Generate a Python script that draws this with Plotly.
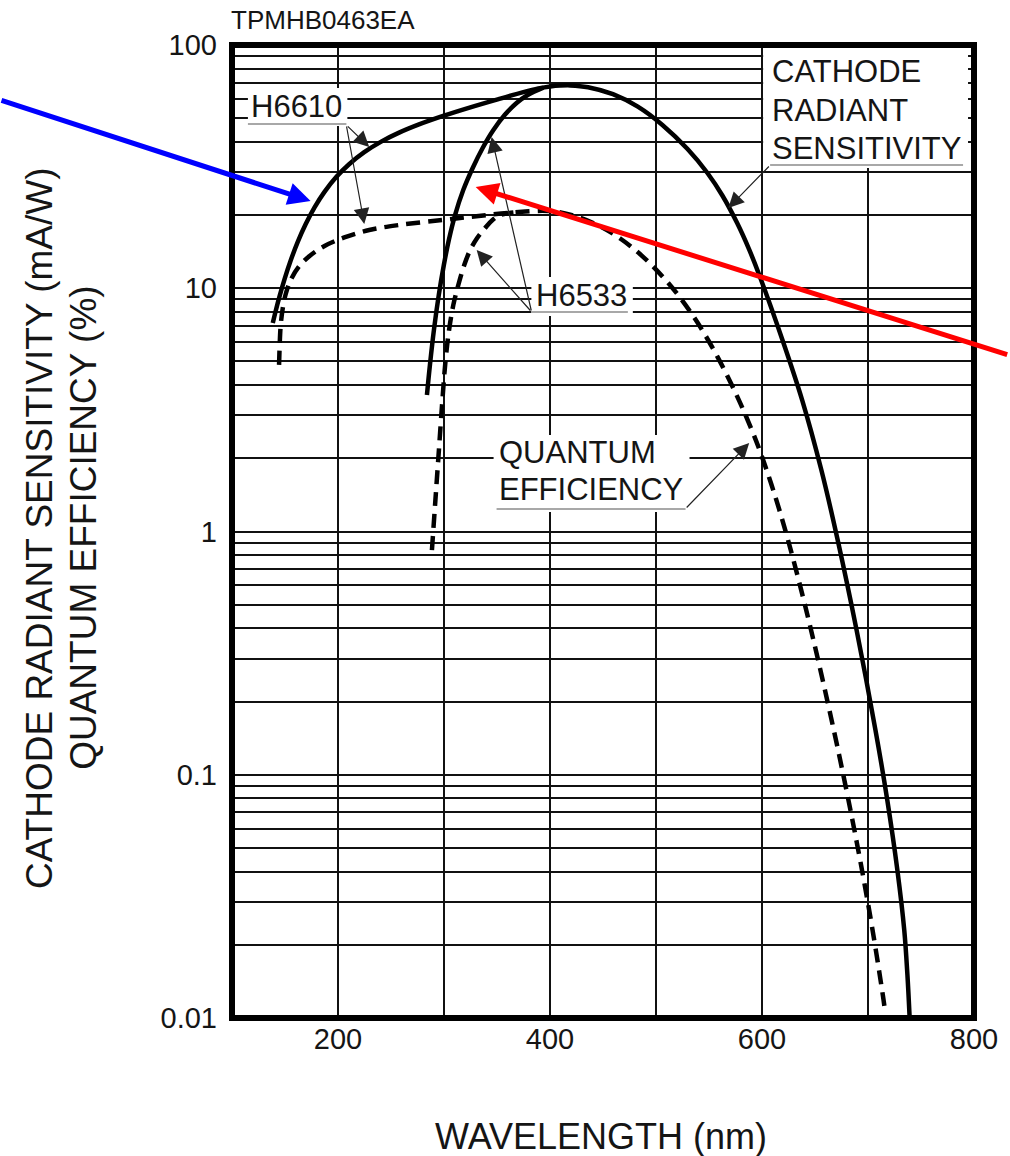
import plotly.graph_objects as go

# ---------------- data ----------------
# H6610 cathode radiant sensitivity (mA/W), solid
h6610_sens_wl = [138.47, 141.28, 145.04, 149.73, 155.36, 161.93, 169.44, 177.88, 187.26, 198.52, 210.72,
                 224.80, 240.75, 257.64, 276.41, 299.87, 323.32, 351.47, 374.93, 389.01, 400.27, 409.65,
                 419.03, 435.92, 459.38, 482.84, 506.30, 529.76, 548.53, 562.60, 576.68, 587.94, 597.31,
                 619.3, 637.9, 656.0, 671.4, 689.2, 707.0, 718.2, 727.7, 734.2, 737.2, 739.3]
h6610_sens = [7.197, 8.086, 9.319, 10.955, 13.003, 15.475, 18.32, 21.50, 24.90, 28.70, 32.42,
              36.26, 40.08, 43.63, 47.17, 51.25, 55.19, 59.95, 64.03, 66.25, 67.52, 68.10,
              68.23, 67.08, 62.77, 55.77, 46.81, 37.36, 29.78, 24.06, 18.49, 14.41, 11.37,
              6.13, 3.47, 1.79, 0.923, 0.394, 0.153, 0.0787, 0.0406, 0.0230, 0.0150, 0.0100]

# H6533 cathode radiant sensitivity (mA/W), solid (joins the H6610 curve near the peak)
h6533_sens_wl = [283.91, 286.73, 290.48, 295.08, 299.86, 304.56, 310.42, 318.16, 327.08, 336.46, 346.59,
                 357.2, 368.46, 378.97, 393.7]
h6533_sens = [3.640, 4.837, 6.736, 9.381, 12.46, 15.79, 20.00, 25.34, 31.22, 37.72, 44.73,
              51.55, 57.74, 62.28, 66.8]

# H6610 quantum efficiency (%), dashed
h6610_qe_wl = [144.4, 145.0, 145.9, 147.9, 150.7, 155.4, 162.9, 173.2, 187.3, 206.0, 229.5, 257.7,
               298.9, 332.7, 365.5, 398.39, 419.97, 445.31, 466.89, 487.53, 506.30, 522.25, 539.14,
               557.91, 576.68, 590.75, 600.13, 613.27, 624.15, 635.32, 644.70, 653.05, 662.81, 673.32,
               683.55, 693.21, 703.91, 714.04, 715.54]
h6610_qe = [4.84, 5.85, 7.0, 8.29, 9.47, 10.81, 12.23, 13.57, 14.92, 16.17, 17.36, 18.2,
            19.08, 19.82, 20.48, 20.78, 20.02, 18.16, 15.94, 13.50, 11.16, 9.206, 7.224,
            5.236, 3.585, 2.587, 2.022, 1.359, 0.9359, 0.6136, 0.4202, 0.2948, 0.1911, 0.1174,
            0.07117, 0.04309, 0.02355, 0.01238, 0.01113]

# H6533 quantum efficiency (%), dashed (joins the H6610 curve near 365 nm)
h6533_qe_wl = [288.6, 291.9, 295.2, 298.5, 301.5, 304.8, 308.8, 313.5, 319.1, 324.7, 331.3, 338.8,
               345.8, 353.3, 365.5]
h6533_qe = [0.839, 1.347, 2.163, 3.472, 5.07, 6.74, 8.54, 10.31, 12.46, 14.36, 16.09, 17.69,
            19.08, 20.0, 20.48]

# axis ticks
x_tickvals = [100, 200, 300, 400, 500, 600, 700, 800]
x_ticktext = ["", "200", "", "400", "", "600", "", "800"]
y_tickvals = [m * d for d in [0.01, 0.1, 1, 10] for m in range(1, 10)] + [100]
y_decade_labels = {0.01: "0.01", 0.1: "0.1", 1: "1", 10: "10", 100: "100"}
y_ticktext = [y_decade_labels.get(round(v, 6), "") for v in y_tickvals]

# ---------------- layout helpers ----------------
W, H = 1010, 1156
L, R, T, B = 232, 978, 45, 1018
FONT = "Liberation Sans, Arial, sans-serif"
TXT = "#151515"


def px(x):
    return (x - L) / (R - L)


def py(y):
    return (B - y) / (B - T)


fig = go.Figure()

solid = dict(color="black", width=4.5, shape="spline", smoothing=1.0)
dashed = dict(color="black", width=4.5, shape="spline", smoothing=1.0, dash="14px,8px")

fig.add_trace(go.Scatter(x=h6610_sens_wl, y=h6610_sens, mode="lines", line=solid, name="H6610 sens"))
fig.add_trace(go.Scatter(x=h6533_sens_wl, y=h6533_sens, mode="lines", line=solid, name="H6533 sens"))
fig.add_trace(go.Scatter(x=h6610_qe_wl, y=h6610_qe, mode="lines", line=dashed, name="H6610 QE"))
fig.add_trace(go.Scatter(x=h6533_qe_wl, y=h6533_qe, mode="lines", line=dashed, name="H6533 QE"))

shapes = []
# white boxes behind labels (hide grid)
for (x0, y0, x1, y1) in [(248, 88, 348, 126), (533, 277, 635, 316), (766, 47, 972, 168), (495, 435, 692, 512)]:
    shapes.append(dict(type="rect", xref="paper", yref="paper", x0=px(x0), x1=px(x1), y0=py(y1), y1=py(y0),
                       fillcolor="white", line=dict(width=0), layer="above"))
# grey underlines
for (x0, x1, y) in [(248, 347, 124), (533, 630, 312), (773, 967, 165), (498, 688, 509)]:
    shapes.append(dict(type="line", xref="paper", yref="paper", x0=px(x0), x1=px(x1), y0=py(y), y1=py(y),
                       line=dict(color="#a8a8a8", width=2), layer="above"))
# thick frame
shapes.append(dict(type="rect", xref="paper", yref="paper", x0=0, x1=1, y0=0, y1=1,
                   line=dict(color="black", width=6), layer="above"))

annotations = []


def label(text, x, y, size=31):
    annotations.append(dict(text=text, xref="paper", yref="paper", x=px(x), y=py(y), xanchor="left",
                            yanchor="middle", showarrow=False, align="left", borderpad=0,
                            font=dict(family=FONT, size=size, color=TXT)))


label("H6610", 250, 107)
label("H6533", 537, 295)
label("CATHODE", 774, 72)
label("RADIANT", 774, 110)
label("SENSITIVITY", 774, 148)
label("QUANTUM", 499, 452)
label("EFFICIENCY", 499, 490)


def arrow(tip, tail, color="#222", width=1.2, head=2, size=2.6):
    annotations.append(dict(text="", xref="paper", yref="paper", x=px(tip[0]), y=py(tip[1]),
                            ax=tail[0] - tip[0], ay=tail[1] - tip[1], showarrow=True,
                            arrowhead=head, arrowsize=size, arrowwidth=width, arrowcolor=color))


arrow((370, 147), (347, 125))
arrow((365, 224), (347, 125))
arrow((493, 137), (533, 312))
arrow((478, 250), (533, 312))
arrow((731, 208), (773, 165))
arrow((752, 443), (688, 509))
# coloured pointer arrows
arrow((311, 201), (0, 100), color="#0000ff", width=5, head=2, size=0.9)
arrow((477, 187), (1010, 355), color="#ff0000", width=5, head=2, size=0.9)

# axis titles and header
annotations.append(dict(text="CATHODE RADIANT SENSITIVITY (mA/W)", xref="paper", yref="paper",
                        x=px(38), y=py(528), textangle=-90, showarrow=False, xanchor="center", yanchor="middle",
                        font=dict(family=FONT, size=37, color=TXT)))
annotations.append(dict(text="QUANTUM EFFICIENCY (%)", xref="paper", yref="paper",
                        x=px(82), y=py(528), textangle=-90, showarrow=False, xanchor="center", yanchor="middle",
                        font=dict(family=FONT, size=37, color=TXT)))
annotations.append(dict(text="WAVELENGTH (nm)", xref="paper", yref="paper", x=px(603), y=py(1136),
                        showarrow=False, xanchor="center", yanchor="middle",
                        font=dict(family=FONT, size=36, color=TXT)))
annotations.append(dict(text="TPMHB0463EA", xref="paper", yref="paper", x=px(229), y=py(20),
                        showarrow=False, xanchor="left", yanchor="middle",
                        font=dict(family=FONT, size=26, color=TXT)))

fig.update_layout(
    width=W, height=H,
    margin=dict(l=L, r=W - R, t=T, b=H - B, pad=0),
    paper_bgcolor="white", plot_bgcolor="white",
    showlegend=False,
    shapes=shapes, annotations=annotations,
    xaxis=dict(range=[100, 800], tickmode="array", tickvals=x_tickvals, ticktext=x_ticktext,
               showgrid=True, gridcolor="#111", gridwidth=1.7, zeroline=False, showline=False,
               ticks="", ticklabelstandoff=1, tickfont=dict(family=FONT, size=29, color=TXT),
               fixedrange=True),
    yaxis=dict(type="log", range=[-2, 2], tickmode="array", tickvals=y_tickvals, ticktext=y_ticktext,
               showgrid=True, gridcolor="#111", gridwidth=1.7, zeroline=False, showline=False,
               ticks="", ticklabelstandoff=14, tickfont=dict(family=FONT, size=29, color=TXT),
               fixedrange=True),
)

fig.write_html("out.html")
